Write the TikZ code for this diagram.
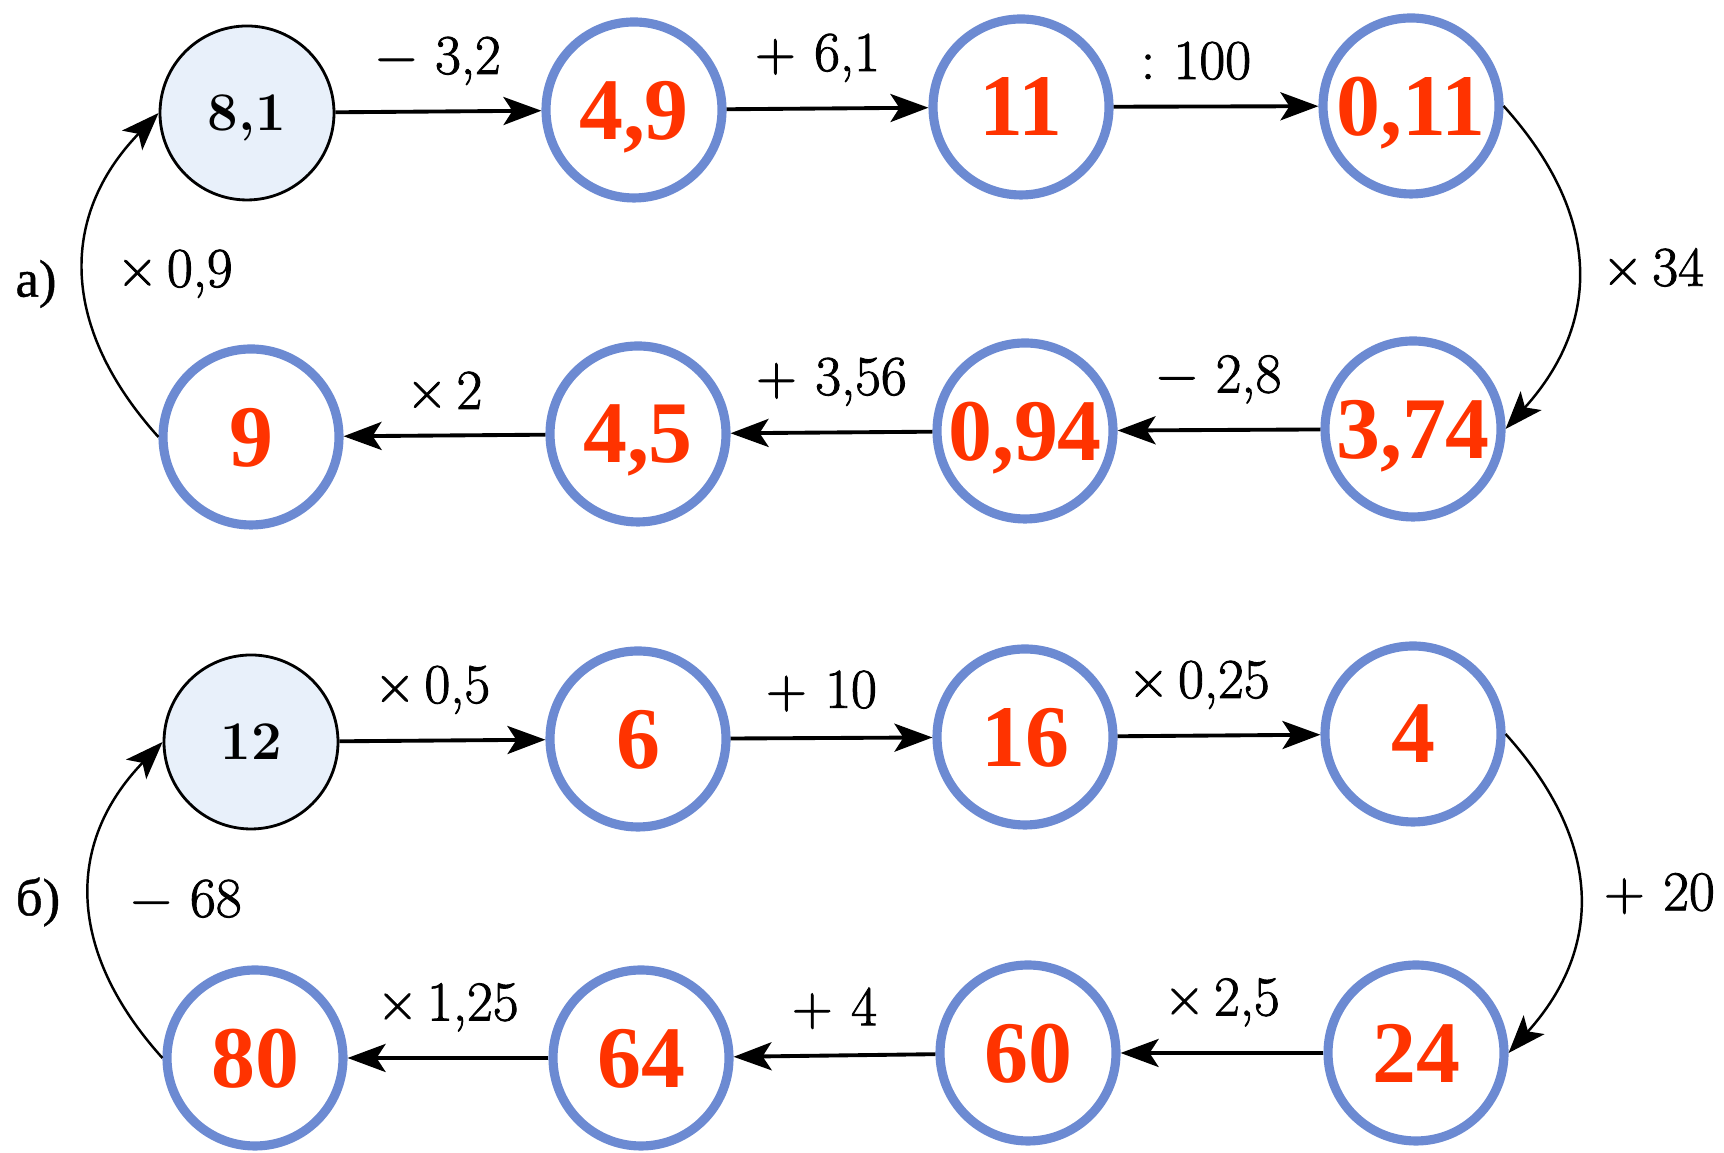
\documentclass[tikz,border=0pt]{standalone}
\usepackage{fontspec}
\newfontfamily\answerfont{Liberation Serif}
\newfontfamily\opfont{Latin Modern Roman}[FakeBold=1.6]
\newfontfamily\partfont{Liberation Serif}[FakeBold=0.8]
\usetikzlibrary{arrows.meta}
\definecolor{ringblue}{RGB}{108,138,210}
\definecolor{answerred}{RGB}{255,51,0}
\definecolor{startfill}{RGB}{232,240,250}
\newcommand{\opgap}{\hspace{0.33em}}

\begin{document}
\begin{tikzpicture}[>={Stealth[length=3.8mm,width=2.8mm,inset=0.9mm]},
  start/.style={circle, draw=black, line width=0.8pt, fill=startfill, minimum size=1.74cm,
    inner sep=0pt, text depth=0pt, font=\fontsize{15.5}{18}\selectfont\bfseries},
  answer/.style={circle, draw=ringblue, line width=2.6pt, minimum size=1.76cm,
    inner sep=0pt, text depth=0pt, text=answerred, font=\answerfont\fontsize{25}{28}\selectfont\bfseries},
  op/.style={font=\opfont\fontsize{16}{18}\selectfont},
  chain/.style={->, line width=1.1pt},
  returnarrow/.style={->, line width=0.7pt, looseness=1.15}]
  \useasboundingbox (0,0) rectangle (17.24,11.53);
  % part a), top row
  \node[start]  (a1) at (2.47,10.40) {8,1};
  \node[answer] (a2) at (6.34,10.43) {4,9};
  \node[answer] (a3) at (10.21,10.46) {11};
  \node[answer] (a4) at (14.11,10.47) {0,11};
  % part a), bottom row
  \node[answer] (a5) at (14.13,7.24) {3,74};
  \node[answer] (a6) at (10.25,7.22) {0,94};
  \node[answer] (a7) at (6.38,7.19) {4,5};
  \node[answer] (a8) at (2.51,7.16) {9};
  \node[op, font=\partfont\fontsize{15}{17}\selectfont] (parta) at (0.36,8.69) {а)};
  % part a), operations
  \draw[chain] (a1) -- node[op, above=1.3mm] (opa1) {−\opgap3,2} (a2);
  \draw[chain] (a2) -- node[op, above=1.3mm, xshift=-1mm] (opa2) {+\opgap6,1} (a3);
  \draw[chain] (a3) -- node[op, above=1.3mm, xshift=-2mm] (opa3) {:\opgap100} (a4);
  \draw[returnarrow] (a4.east) to[out=-48,in=48] node[op, right=1.2mm] (opa4) {×\,34} (a5.east);
  \draw[chain] (a5) -- node[op, above=1.3mm] (opa5) {−\opgap2,8} (a6);
  \draw[chain] (a6) -- node[op, above=1.3mm] (opa6) {+\opgap3,56} (a7);
  \draw[chain] (a7) -- node[op, above=1.3mm] (opa7) {×\,2} (a8);
  \draw[returnarrow] (a8.west) to[out=132,in=-134] node[op, right=2mm] (opa8) {×\,0,9} (a1.west);
  % part b), top row
  \node[start]  (b1) at (2.51,4.11) {12};
  \node[answer] (b2) at (6.38,4.14) {6};
  \node[answer] (b3) at (10.25,4.16) {16};
  \node[answer] (b4) at (14.13,4.19) {4};
  % part b), bottom row
  \node[answer] (b5) at (14.16,1.00) {24};
  \node[answer] (b6) at (10.28,1.00) {60};
  \node[answer] (b7) at (6.41,0.95) {64};
  \node[answer] (b8) at (2.55,0.95) {80};
  \node[op, font=\partfont\fontsize{15}{17}\selectfont] (partb) at (0.38,2.51) {б)};
  % part b), operations
  \draw[chain] (b1) -- node[op, above=1.3mm, xshift=-1mm] (opb1) {×\,0,5} (b2);
  \draw[chain] (b2) -- node[op, above=1.3mm, xshift=-1mm] (opb2) {+\opgap10} (b3);
  \draw[chain] (b3) -- node[op, above=1.3mm, xshift=-2mm] (opb3) {×\,0,25} (b4);
  \draw[returnarrow] (b4.east) to[out=-48,in=48] node[op, right=1.2mm] (opb4) {+\opgap20} (b5.east);
  \draw[chain] (b5) -- node[op, above=1.3mm] (opb5) {×\,2,5} (b6);
  \draw[chain] (b6) -- node[op, above=1.3mm] (opb6) {+\opgap4} (b7);
  \draw[chain] (b7) -- node[op, above=1.3mm] (opb7) {×\,1,25} (b8);
  \draw[returnarrow] (b8.west) to[out=132,in=-134] node[op, right=2.8mm] (opb8) {−\opgap68} (b1.west);
\end{tikzpicture}
\end{document}
